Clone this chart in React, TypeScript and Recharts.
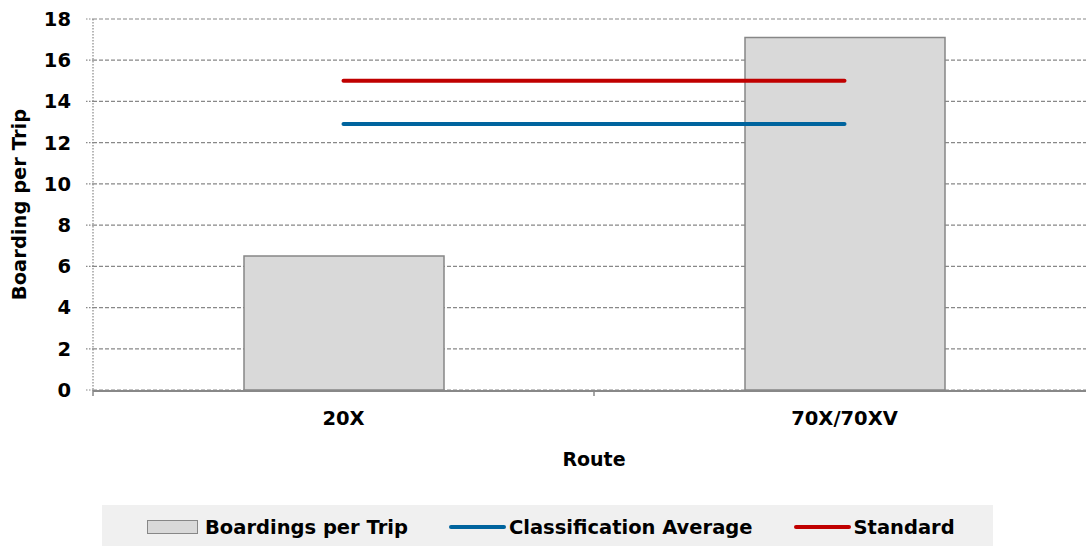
import React from 'react';
import { ComposedChart, Bar, Line, XAxis, YAxis, CartesianGrid, Legend } from 'recharts';

const routes = ['20X', '70X/70XV'];
const boardingsPerTrip = [6.5, 17.1];
const classificationAverage = [12.9, 12.9];
const standard = [15, 15];
const yTicks = [0, 2, 4, 6, 8, 10, 12, 14, 16, 18];
const edgeTicks = [0, 0.5, 1];

const data = routes.map((r, i) => ({
  route: r,
  boardings: boardingsPerTrip[i],
  avg: classificationAverage[i],
  standard: standard[i],
}));

const FONT = '"DejaVu Sans", sans-serif';

const legendItems = [
  { label: 'Boardings per Trip', type: 'bar' },
  { label: 'Classification Average', type: 'line', color: '#00649e' },
  { label: 'Standard', type: 'line', color: '#c00000' },
];

const LegendContent = () => (
  <div
    style={{
      background: '#f0f0f0',
      width: 891,
      height: 41,
      display: 'flex',
      alignItems: 'center',
      paddingLeft: 45,
      paddingTop: 3,
      boxSizing: 'border-box',
      fontFamily: FONT,
      fontWeight: 'bold',
      fontSize: 19.5,
      color: '#000',
    }}
  >
    {legendItems.map((it, i) => (
      <div key={i} style={{ display: 'flex', alignItems: 'center', marginRight: 41 }}>
        {it.type === 'bar' ? (
          <div style={{ width: 49, height: 12, background: '#d9d9d9', border: '1px solid #878787', marginRight: 7 }} />
        ) : (
          <div style={{ width: 57, height: 4, borderRadius: 2, background: it.color, marginRight: 3 }} />
        )}
        <span style={{ whiteSpace: 'nowrap' }}>{it.label}</span>
      </div>
    ))}
  </div>
);

const EmptyTick = () => <g />;

export default function App() {
  return (
    <div style={{ position: 'fixed', left: 0, top: 0, width: 1086, height: 546, overflow: 'hidden', background: '#fff' }}>
      <ComposedChart
        width={1100}
        height={546}
        data={data}
        margin={{ top: 19, right: 5, left: 0, bottom: 76 }}
      >
        <CartesianGrid xAxisId="main" vertical={false} stroke="#888" strokeDasharray="4 2" strokeWidth={1.2} />
        <XAxis
          xAxisId="main"
          dataKey="route"
          height={79}
          axisLine={{ stroke: '#888', strokeWidth: 2 }}
          tickLine={false}
          tickSize={6}
          tickMargin={14}
          tick={{ fill: '#000', fontFamily: FONT, fontWeight: 'bold', fontSize: 19.5 }}
          label={{ value: 'Route', position: 'insideBottom', offset: 4, fill: '#000', fontFamily: FONT, fontWeight: 'bold', fontSize: 19 }}
        />
        <XAxis
          xAxisId="a_edges"
          type="number"
          domain={[0, 1]}
          ticks={edgeTicks}
          interval={0}
          height={1}
          tick={<EmptyTick />}
          axisLine={false}
          tickLine={{ stroke: '#888', strokeWidth: 1.5 }}
          tickSize={6}
          allowDataOverflow
        />
        <YAxis
          width={93}
          domain={[0, 18]}
          ticks={yTicks}
          interval={0}
          axisLine={{ stroke: '#888', strokeDasharray: '1.5 1.5', strokeWidth: 1.2 }}
          tickLine={{ stroke: '#888', strokeDasharray: '1.5 1.5', strokeWidth: 1.2 }}
          tickSize={7}
          tickMargin={15}
          tick={{ fill: '#000', fontFamily: FONT, fontWeight: 'bold', fontSize: 19.5 }}
          label={{ value: 'Boarding per Trip', angle: -90, position: 'center', dx: -27, fill: '#000', fontFamily: FONT, fontWeight: 'bold', fontSize: 19.5 }}
        />
        <Bar xAxisId="main" dataKey="boardings" name="Boardings per Trip" fill="#d9d9d9" stroke="#878787" strokeWidth={1.5} barSize={200} isAnimationActive={false} />
        <Line xAxisId="main" dataKey="avg" name="Classification Average" stroke="#00649e" strokeWidth={4} strokeLinecap="round" dot={false} activeDot={false} isAnimationActive={false} />
        <Line xAxisId="main" dataKey="standard" name="Standard" stroke="#c00000" strokeWidth={4} strokeLinecap="round" dot={false} activeDot={false} isAnimationActive={false} />
        <Legend
          layout="horizontal"
          verticalAlign="middle"
          align="center"
          content={<LegendContent />}
          wrapperStyle={{ left: 102, top: 505, width: 891, height: 41 }}
        />
      </ComposedChart>
    </div>
  );
}
